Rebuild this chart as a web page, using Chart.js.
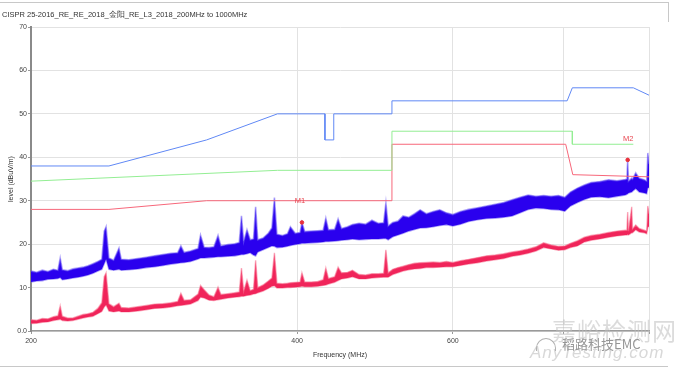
<!DOCTYPE html>
<html>
<head>
<meta charset="utf-8">
<script src="https://cdn.jsdelivr.net/npm/chart.js@4"></script>
<style>
  body { margin: 0; background: #fff; }
  #wrap { position: relative; width: 680px; height: 372px; overflow: hidden; }
  #frameTop { position: absolute; left: 0; top: 2px; width: 668px; height: 0; border-top: 1px solid #c8c8c8; }
  #frameRight { position: absolute; left: 668px; top: 2px; width: 0; height: 20px; border-left: 1px solid #c8c8c8; }
  #frameBottom { position: absolute; left: 0; top: 366px; width: 668px; height: 0; border-top: 1px solid #c8c8c8; }
  .wm { position: absolute; white-space: nowrap; pointer-events: none; }
  #wm1 { left: 552px; top: 312px; font: 24px "Noto Sans CJK SC"; color: rgba(190,190,190,0.55); letter-spacing: 1px; }
  #wm2 { left: 562px; top: 334px; font: 13px "Noto Sans CJK SC"; color: #969696; }
  #wm3 { left: 530px; top: 343px; font: italic 17px "Liberation Sans"; color: rgba(190,190,190,0.6); letter-spacing: 1px; }
  #wmIcon { left: 536px; top: 338px; width: 18px; height: 12px; border: 1px solid #b0b0b0; border-bottom: none; border-radius: 10px 10px 0 0; }
</style>
</head>
<body>
<div id="wrap">
  <canvas id="chart" width="680" height="372"></canvas>
  <div id="frameTop"></div>
  <div id="frameRight"></div>
  <div id="frameBottom"></div>
  <div class="wm" id="wm1">嘉峪检测网</div>
  <div class="wm" id="wm3">AnyTesting.com</div>
  <div class="wm" id="wmIcon"></div>
  <div class="wm" id="wm2">稻路科技EMC</div>
</div>
<script>
// Sweep frequencies (MHz)
const freqs = [
  200, 203, 206, 209, 212, 214.5, 215.8, 217, 220, 223,
  226, 229, 232, 235, 238, 240.5, 242, 243.2, 245, 248,
  251.5, 253, 258, 264, 270, 276, 282, 288, 293, 295.5,
  298, 303, 309, 311, 314, 318, 322, 325.5, 328, 334,
  340, 344, 346, 348, 351, 354, 357, 359, 361, 366,
  371, 374.5, 377, 379.5, 385, 390, 393, 398, 403, 405,
  408, 415, 422, 428, 431, 434, 441, 445, 449, 456,
  462, 470, 478, 486, 494, 501, 504, 507, 513, 520,
  527, 535, 543, 551, 560, 570, 580, 590, 600, 612,
  625, 640, 655, 670, 685, 700, 715, 730, 745, 760,
  775, 790, 803, 815, 830, 845, 860, 880, 900, 920,
  940, 944, 946, 948, 956, 958, 966, 975, 988, 994,
  997, 1000
];

// Peak trace (blue) - top and bottom of the noise band
const peakHi = [
  13.8, 13.5, 14.0, 13.7, 14.2, 14.0, 16.8, 14.1, 13.9, 14.3,
  14.5, 14.7, 15.0, 15.5, 16.0, 16.5, 23.0, 24.0, 16.8, 16.3,
  19.1, 16.5, 16.4, 16.7, 17.0, 17.3, 17.6, 17.9, 18.0, 19.6,
  18.1, 18.4, 19.0, 22.1, 19.3, 19.2, 19.4, 22.0, 19.6, 19.9,
  20.1, 20.4, 26.5, 20.6, 23.3, 21.0, 21.2, 28.6, 21.0, 21.4,
  22.5, 23.7, 30.7, 22.3, 22.0, 22.4, 24.0, 22.5, 22.7, 25.0,
  22.9, 23.0, 23.1, 23.2, 26.0, 23.3, 23.4, 25.8, 23.6, 24.0,
  24.5, 24.8, 24.6, 25.5, 24.8, 24.9, 29.5, 24.2, 25.0, 25.3,
  26.5, 26.2, 27.0, 27.9, 27.0, 27.5, 27.9, 27.2, 26.8, 27.5,
  28.0, 28.4, 28.8, 29.2, 29.6, 30.2, 30.8, 31.3, 31.0, 31.2,
  31.0, 31.2, 30.8, 32.0, 32.9, 33.6, 34.2, 34.4, 34.8, 34.6,
  34.9, 35.0, 39.4, 34.5, 35.2, 35.0, 36.4, 35.2, 34.8, 34.5,
  41.0, 38.5
];
const peakLo = [
  11.3, 11.5, 11.6, 11.9, 12.0, 12.1, 12.3, 11.8, 12.0, 12.2,
  12.4, 12.6, 12.9, 13.3, 13.8, 14.2, 15.5, 16.5, 14.2, 14.0,
  14.2, 14.0, 14.1, 14.3, 14.6, 14.8, 15.1, 15.4, 15.6, 15.7,
  15.8, 16.0, 16.6, 16.8, 16.8, 16.9, 17.0, 17.1, 17.1, 17.2,
  17.3, 17.5, 17.6, 17.6, 17.8, 18.0, 17.5, 17.3, 18.2, 18.7,
  19.2, 19.6, 19.5, 19.2, 19.3, 19.5, 19.7, 19.9, 20.1, 20.2,
  20.2, 20.3, 20.4, 20.5, 20.6, 20.6, 20.7, 20.8, 20.9, 21.0,
  21.2, 21.0, 21.1, 21.2, 21.2, 21.3, 21.3, 21.0, 21.7, 22.1,
  22.5, 23.0, 23.4, 23.7, 23.8, 24.0, 24.3, 24.5, 24.2, 24.6,
  25.2, 25.6, 25.9, 26.0, 26.2, 26.5, 27.2, 28.0, 28.3, 28.2,
  28.0, 27.9, 27.6, 28.8, 29.6, 30.3, 30.8, 30.9, 30.7, 31.0,
  31.3, 31.5, 31.6, 31.8, 32.0, 32.2, 32.8, 32.0, 31.8, 31.6,
  33.0, 33.0
];

// Average trace (red) - top and bottom of the band
const avgHi = [
  2.6, 2.5, 2.9, 2.8, 3.3, 3.5, 5.8, 3.4, 3.0, 3.0,
  3.4, 3.8, 4.0, 4.3, 5.2, 6.5, 12.5, 13.4, 6.3, 5.6,
  6.4, 5.4, 5.3, 5.6, 5.9, 6.2, 6.3, 6.5, 6.8, 8.7,
  7.1, 7.2, 8.5, 10.5, 9.5, 8.3, 7.9, 10.1, 8.4, 8.6,
  8.8, 9.0, 14.5, 9.2, 11.7, 9.3, 9.6, 16.3, 10.0, 10.6,
  11.5, 12.2, 18.0, 11.0, 10.9, 11.0, 11.1, 11.2, 11.3, 13.4,
  11.3, 11.3, 11.4, 11.8, 14.5, 12.1, 12.5, 14.7, 13.4, 13.5,
  14.0, 13.0, 12.9, 13.2, 13.2, 13.3, 18.7, 13.4, 14.2, 14.6,
  14.9, 15.3, 15.6, 15.7, 15.8, 15.9, 15.8, 16.0, 15.8, 16.2,
  16.5, 16.9, 17.3, 17.5, 17.8, 18.2, 18.5, 18.9, 19.4, 20.3,
  19.8, 19.5, 19.6, 20.2, 20.8, 21.6, 22.0, 22.3, 22.7, 23.0,
  23.2, 23.2, 27.4, 23.0, 28.6, 23.5, 24.4, 23.6, 23.2, 23.0,
  28.8, 27.0
];
const avgLo = [
  1.7, 1.8, 2.0, 2.1, 2.4, 2.6, 2.7, 2.4, 2.3, 2.4,
  2.7, 3.0, 3.2, 3.4, 4.0, 4.5, 5.5, 6.0, 4.6, 4.4,
  4.6, 4.4, 4.4, 4.6, 4.9, 5.2, 5.3, 5.5, 5.8, 5.9,
  6.0, 6.2, 7.0, 7.8, 7.6, 7.1, 7.0, 7.2, 7.3, 7.6,
  7.8, 7.9, 8.0, 8.0, 8.2, 8.3, 8.5, 8.6, 8.8, 9.2,
  9.8, 10.3, 10.4, 9.9, 9.9, 10.0, 10.0, 10.1, 10.2, 10.3,
  10.2, 10.2, 10.3, 10.5, 10.6, 10.8, 11.2, 11.6, 12.0, 12.2,
  12.5, 12.0, 12.0, 12.2, 12.3, 12.4, 12.4, 12.4, 13.0, 13.4,
  13.8, 14.1, 14.3, 14.4, 14.6, 14.6, 14.7, 14.8, 14.8, 15.1,
  15.4, 15.7, 16.1, 16.4, 16.7, 17.2, 17.5, 17.9, 18.4, 19.2,
  18.9, 18.6, 18.7, 19.2, 19.6, 20.5, 20.9, 21.2, 21.6, 21.9,
  22.1, 22.1, 22.2, 22.1, 22.6, 22.6, 23.3, 22.8, 22.6, 22.4,
  24.0, 24.0
];

// Limit lines
const peakLimitFreq = [200, 245, 316, 380, 430, 430, 440, 440, 512, 512, 808, 819, 960, 1000];
const peakLimitLevel = [38, 38, 44, 50, 50, 44, 44, 50, 50, 53, 53, 56, 56, 54.3];
const qpLimitFreq = [200, 380, 512, 512, 819, 819, 960];
const qpLimitLevel = [34.5, 37, 37, 46, 46, 43, 43];
const avgLimitFreq = [200, 245, 316, 512, 512, 805, 820, 1000];
const avgLimitLevel = [28, 28, 30, 30, 43, 43, 36, 35.5];

// Markers
const markerNames = ['M1', 'M2'];
const markerFreq = [405, 946];
const markerLevel = [25.0, 39.4];
const markerLabelFreq = [403, 947];
const markerLabelLevel = [30, 44.2];

// Axes
const xTicks = [200, 400, 600, 800, 1000];
const xLabels = ['200', '400', '600', '', ''];
const yTicks = [0, 10, 20, 30, 40, 50, 60, 70];
const yLabels = ['0.0', '10', '20', '30', '40', '50', '60', '70'];

const FONT = '"Liberation Sans", "DejaVu Sans", sans-serif';

function pts(xs, ys) {
  return xs.map((x, i) => ({ x, y: ys[i] }));
}

function lineSet(data, color, extra = {}) {
  return {
    data,
    borderColor: color,
    borderWidth: 1,
    pointRadius: 0,
    tension: 0,
    fill: false,
    ...extra
  };
}

const markerLabels = {
  id: 'markerLabels',
  afterDatasetsDraw(chart) {
    const { ctx, scales: { x, y } } = chart;
    ctx.save();
    ctx.fillStyle = '#e8454f';
    ctx.font = '7.5px ' + FONT;
    ctx.textAlign = 'center';
    ctx.textBaseline = 'middle';
    markerNames.forEach((name, i) => {
      ctx.fillText(name, x.getPixelForValue(markerLabelFreq[i]), y.getPixelForValue(markerLabelLevel[i]));
    });
    ctx.restore();
  }
};

const ctx = document.getElementById('chart').getContext('2d');
new Chart(ctx, {
  type: 'line',
  data: {
    datasets: [
      lineSet(pts(markerFreq, markerLevel), '#e8303c', { pointRadius: 1.8, pointBackgroundColor: '#e8303c', showLine: false }),
      lineSet(pts(peakLimitFreq, peakLimitLevel), '#6088f5'),
      lineSet(pts(qpLimitFreq, qpLimitLevel), '#93ee93'),
      lineSet(pts(avgLimitFreq, avgLimitLevel), '#f7677a'),
      lineSet(pts(freqs, peakHi), 'rgba(110,90,245,0.55)', { borderWidth: 1.6, fill: '+1', backgroundColor: '#2a00ee' }),
      lineSet(pts(freqs, peakLo), 'rgba(110,90,245,0.55)', { borderWidth: 1.6 }),
      lineSet(pts(freqs, avgHi), 'rgba(248,110,140,0.55)', { borderWidth: 1.4, fill: '+1', backgroundColor: '#f0245a' }),
      lineSet(pts(freqs, avgLo), 'rgba(248,110,140,0.55)', { borderWidth: 1.4 })
    ]
  },
  options: {
    responsive: false,
    animation: false,
    devicePixelRatio: 1,
    layout: { padding: { left: 2, right: 31, top: 0, bottom: 0 } },
    plugins: {
      legend: { display: false },
      tooltip: { enabled: false },
      title: {
        display: true,
        text: 'CISPR 25-2016_RE_RE_2018_金阳_RE_L3_2018_200MHz to 1000MHz',
        align: 'start',
        color: '#333',
        font: { family: FONT, size: 7.5, weight: 'normal' },
        padding: { top: 10, bottom: 8 }
      }
    },
    scales: {
      x: {
        type: 'logarithmic',
        min: 200,
        max: 1000,
        afterBuildTicks: (s) => { s.ticks = xTicks.map(v => ({ value: v })); },
        afterFit: (s) => { s.height = 41; },
        ticks: {
          autoSkip: false,
          maxRotation: 0,
          padding: 3,
          color: '#444',
          font: { family: FONT, size: 7 },
          callback: (v, i) => xLabels[i]
        },
        grid: { color: '#e2e2e2', lineWidth: 1, tickLength: 3, tickColor: '#999' },
        border: { color: '#9a9a9a', width: 1.5 },
        title: {
          display: true,
          text: 'Frequency (MHz)',
          color: '#333',
          font: { family: FONT, size: 7 },
          padding: { top: 0, bottom: 13 }
        }
      },
      y: {
        min: 0,
        max: 70,
        afterBuildTicks: (s) => { s.ticks = yTicks.map(v => ({ value: v })); },
        afterFit: (s) => { s.width = 29; },
        ticks: {
          padding: 1,
          color: '#444',
          font: { family: FONT, size: 7 },
          callback: (v, i) => yLabels[i]
        },
        grid: { color: '#e2e2e2', lineWidth: 1, tickLength: 3, tickColor: '#999' },
        border: { color: '#8a8a8a', width: 2 },
        title: {
          display: true,
          text: 'level (dBuV/m)',
          color: '#333',
          font: { family: FONT, size: 7 },
          padding: { top: 5, bottom: 0 }
        }
      }
    }
  },
  plugins: [markerLabels]
});
</script>
</body>
</html>
